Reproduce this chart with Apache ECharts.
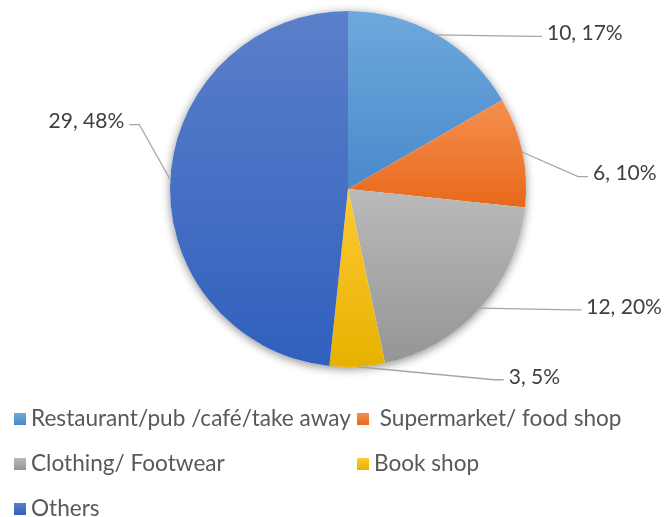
<!DOCTYPE html>
<html>
<head>
<meta charset="utf-8">
<script src="https://cdn.jsdelivr.net/npm/echarts@6/dist/echarts.min.js"></script>
<style>
  html, body { margin: 0; padding: 0; background: #fff; }
  #chart { width: 664px; height: 517px; }
</style>
</head>
<body>
<div id="chart"></div>
<script>
// Shop categories and counts
const categories = [
  'Restaurant/pub /café/take away',
  ' Supermarket/ food shop',
  'Clothing/ Footwear',
  'Book shop',
  'Others'
];
const counts = [10, 6, 12, 3, 29];

// Slice fills: light at the top, darker at the bottom
const sliceColors = [
  ['#6ea8dd', '#4a8acb'],
  ['#f5904f', '#e7691a'],
  ['#bababa', '#959595'],
  ['#ffc933', '#e6b200'],
  ['#5b7fca', '#3060bd']
];

// Leader line lengths and label nudges per slice
const labelTweaks = [
  { len: 4, len2: 103, dx: 0, dy: 2 },
  { len: 2, len2: 40, dx: 24, dy: 22 },
  { len: 4, len2: 80, dx: 18, dy: -4 },
  { len: 8, len2: 146, dx: 0, dy: 2 },
  { len: 3, len2: 38, dx: 0, dy: -58 }
];

const total = counts.reduce((a, b) => a + b, 0);

const chart = echarts.init(document.getElementById('chart'));

const data = categories.map((name, i) => ({
  name: name,
  value: counts[i],
  itemStyle: {
    color: new echarts.graphic.LinearGradient(0, 0, 0, 1, [
      { offset: 0, color: sliceColors[i][0] },
      { offset: 1, color: sliceColors[i][1] }
    ])
  },
  labelLine: { length: labelTweaks[i].len, length2: labelTweaks[i].len2 }
}));

const legendText = {
  fontFamily: 'Lato',
  fontSize: 22.6,
  color: '#595959',
  lineHeight: 24
};

const legendBase = {
  orient: 'vertical',
  top: 407,
  height: 200,
  padding: 0,
  itemGap: 21,
  itemWidth: 12,
  itemHeight: 12,
  icon: 'rect',
  textStyle: legendText
};

chart.setOption({
  animation: false,
  legend: [
    Object.assign({}, legendBase, {
      data: [categories[0], categories[2], categories[4]],
      left: 14
    }),
    Object.assign({}, legendBase, {
      data: [categories[1], categories[3]],
      left: 357
    })
  ],
  series: [
    {
      // soft shadow under the whole pie
      type: 'pie',
      silent: true,
      center: [348, 189],
      radius: 178,
      label: { show: false },
      labelLine: { show: false },
      itemStyle: {
        color: '#ffffff',
        shadowBlur: 10,
        shadowOffsetY: 2,
        shadowColor: 'rgba(0,0,0,0.45)'
      },
      data: [{ name: 'total', value: total }],
      z: 1
    },
    {
      type: 'pie',
      center: [348, 189],
      radius: 178,
      startAngle: 90,
      clockwise: true,
      z: 2,
      itemStyle: { borderWidth: 0 },
      label: {
        show: true,
        position: 'outside',
        bleedMargin: 0,
        overflow: 'none',
        fontFamily: 'Lato',
        fontSize: 21,
        color: '#404040',
        formatter: (p) => p.value + ', ' + Math.round(p.percent) + '%'
      },
      labelLine: {
        show: true,
        smooth: false,
        lineStyle: { color: '#a6a6a6', width: 1.3 }
      },
      // leader line: from the slice edge to a short elbow beside the label
      labelLayout: (params) => {
        const t = labelTweaks[params.dataIndex];
        const r = params.labelRect;
        const pts = params.labelLinePoints;
        if (!pts) return { dx: t.dx, dy: t.dy };
        const p0 = pts[0];
        const onRight = r.x + r.width / 2 > p0[0];
        const yEnd = r.y + t.dy + r.height / 2 + 3;
        const xEnd = onRight ? r.x + t.dx - 5 : r.x + t.dx + r.width + 5;
        const xElbow = onRight ? xEnd - 10 : xEnd + 10;
        return {
          dx: t.dx,
          dy: t.dy,
          labelLinePoints: [p0, [xElbow, yEnd], [xEnd, yEnd]]
        };
      },
      data: data
    }
  ]
});
</script>
</body>
</html>
